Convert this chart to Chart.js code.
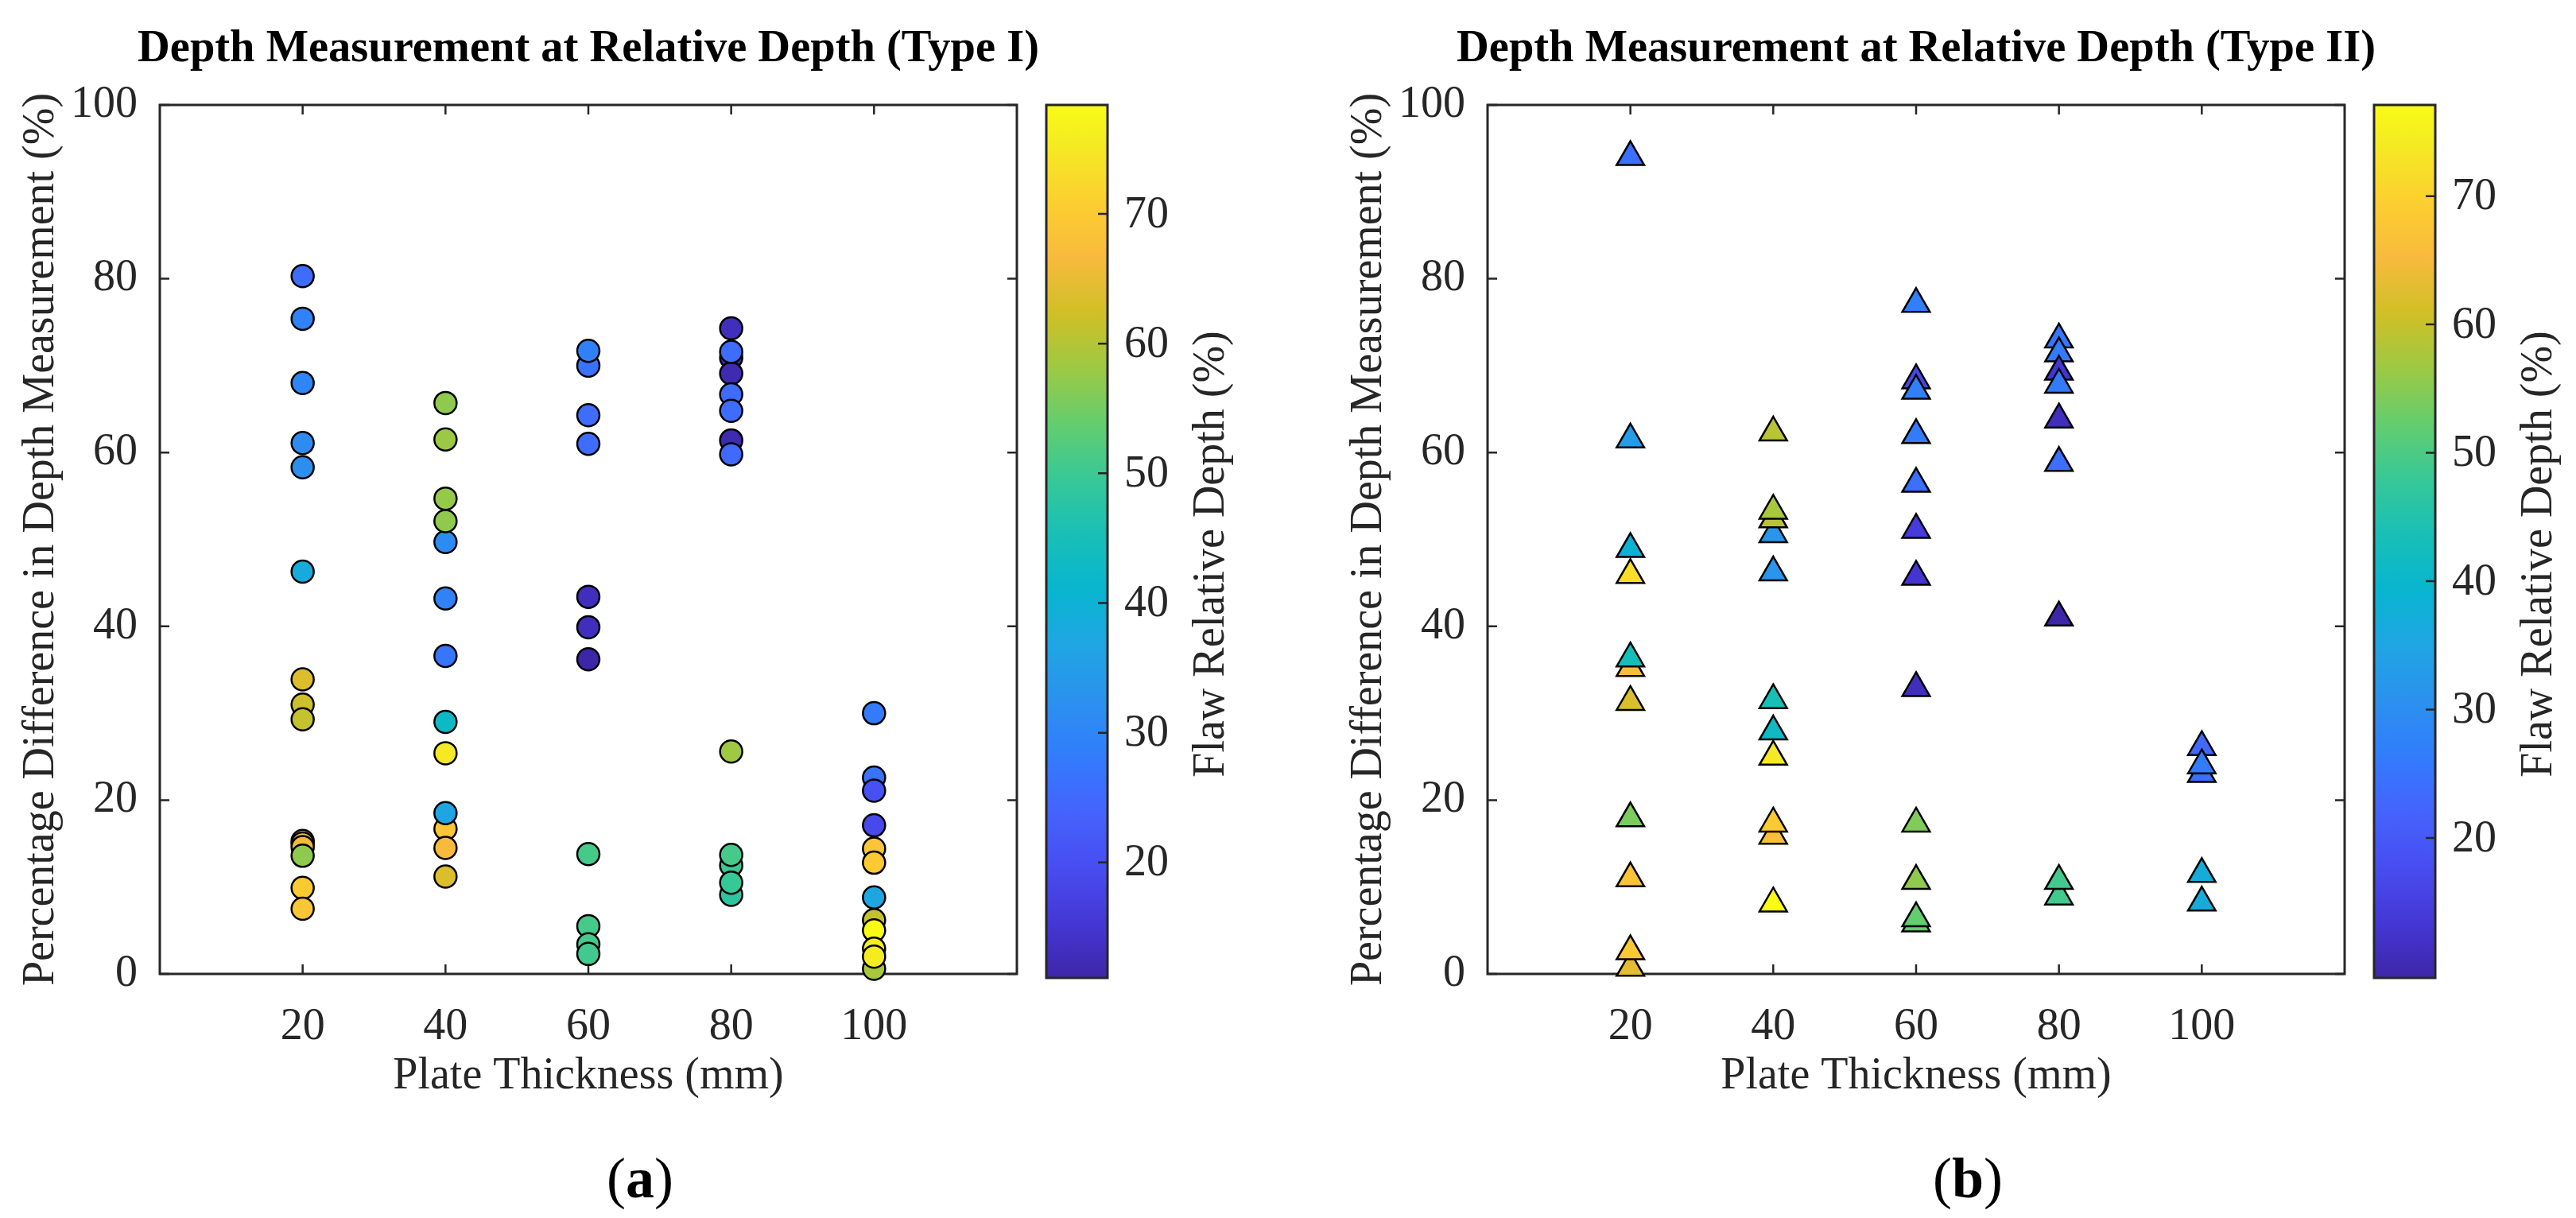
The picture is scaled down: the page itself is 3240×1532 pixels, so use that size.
<!DOCTYPE html>
<html>
<head>
<meta charset="utf-8">
<title>Depth Measurement at Relative Depth</title>
<script src="https://cdn.jsdelivr.net/npm/chart.js@4.4.0/dist/chart.umd.min.js"></script>
<style>
  html, body { margin: 0; padding: 0; background: #fff; }
  body { width: 3240px; height: 1532px; position: relative; overflow: hidden; }
  .panel { position: absolute; top: 0; width: 1570px; height: 1532px; }
  .panel canvas { position: absolute; left: 0; top: 0; width: 1570px; height: 1532px; }
  .sub {
    position: absolute; top: 1439px; left: 805px; width: 200px; margin-left: -100px;
    text-align: center; font-family: 'Liberation Serif', 'Times New Roman', serif;
    font-size: 72px; line-height: 86px; color: #000;
  }
</style>
</head>
<body>
<div class="panel" style="left:0px">
  <canvas id="chartA" width="1570" height="1532"></canvas>
  <div class="sub">(<b>a</b>)</div>
</div>
<div class="panel" style="left:1670px">
  <canvas id="chartB" width="1570" height="1532"></canvas>
  <div class="sub">(<b>b</b>)</div>
</div>
<script>
// axis ticks
const xTicks = [20, 40, 60, 80, 100];
const yTicks = [0, 20, 40, 60, 80, 100];
const colorTicks = [20, 30, 40, 50, 60, 70];

// Type I flaws (circles)
const thickness1 = [20, 20, 20, 20, 20, 20, 20, 20, 20, 20, 20, 20, 20, 20, 20,
                    40, 40, 40, 40, 40, 40, 40, 40, 40, 40, 40, 40, 40,
                    60, 60, 60, 60, 60, 60, 60, 60, 60, 60, 60,
                    80, 80, 80, 80, 80, 80, 80, 80, 80, 80, 80, 80, 80,
                    100, 100, 100, 100, 100, 100, 100, 100, 100, 100, 100, 100];
const diff1 = [80.3, 75.4, 68.0, 61.1, 58.3, 46.3, 33.9, 31.0, 29.3, 15.3, 15.0, 14.6, 13.6, 9.9, 7.5,
               65.7, 61.5, 49.7, 54.7, 52.1, 43.2, 36.6, 29.0, 25.4, 16.7, 18.5, 14.5, 11.2,
               70.0, 71.7, 64.3, 61.0, 43.4, 39.9, 36.2, 13.8, 5.5, 3.4, 2.3,
               74.3, 70.9, 69.1, 61.4, 71.6, 66.7, 64.8, 59.8, 25.6, 12.5, 13.7, 9.1, 10.5,
               30.0, 22.6, 21.1, 17.1, 14.4, 12.8, 8.8, 6.2, 5.0, 0.6, 2.9, 2.0];
const flaw1 = [25.5, 29.5, 30.0, 31.5, 32.0, 38.5, 63.6, 62.0, 61.3, 66.6, 68.0, 66.0, 57.0, 69.9, 69.0,
               57.0, 58.0, 31.5, 57.5, 57.0, 29.5, 27.0, 42.7, 75.0, 68.8, 36.7, 66.6, 63.6,
               26.6, 29.3, 25.5, 25.5, 13.0, 13.0, 11.1, 51.0, 51.0, 51.0, 50.5,
               13.0, 12.5, 12.0, 12.0, 25.5, 25.5, 25.5, 25.0, 58.2, 50.0, 51.0, 48.1, 49.5,
               28.0, 26.6, 20.5, 19.0, 68.8, 69.9, 37.0, 61.3, 78.4, 59.0, 76.0, 75.5];
const flawRange1 = [11.1, 78.4];

// Type II flaws (triangles)
const thickness2 = [20, 20, 20, 20, 20, 20, 20, 20, 20, 20, 20,
                    40, 40, 40, 40, 40, 40, 40, 40, 40, 40, 40,
                    60, 60, 60, 60, 60, 60, 60, 60, 60, 60, 60, 60,
                    80, 80, 80, 80, 80, 80, 80, 80, 80,
                    100, 100, 100, 100, 100];
const diff2 = [94.0, 61.5, 48.9, 45.9, 35.2, 36.3, 31.3, 17.9, 11.0, 0.7, 2.6,
               62.3, 50.6, 52.3, 53.3, 46.2, 31.5, 27.9, 25.0, 15.9, 17.3, 8.1,
               77.1, 68.3, 67.1, 62.0, 56.4, 51.1, 45.7, 32.9, 17.3, 10.7, 5.8, 6.4,
               73.0, 71.4, 69.3, 67.8, 63.8, 58.8, 41.0, 8.9, 10.7,
               23.0, 26.1, 24.0, 11.5, 8.2];
const flaw2 = [24.2, 33.0, 38.5, 72.0, 66.3, 43.0, 62.0, 54.0, 67.0, 63.0, 68.0,
               58.8, 32.0, 58.8, 57.4, 31.5, 43.6, 41.5, 73.7, 66.3, 68.5, 77.1,
               27.5, 16.6, 27.5, 26.4, 24.2, 14.5, 13.0, 11.0, 54.4, 55.5, 52.3, 52.3,
               25.3, 26.4, 13.0, 26.4, 11.0, 24.2, 9.1, 49.0, 49.0,
               24.2, 23.0, 26.4, 37.0, 37.0];
const flawRange2 = [9.1, 77.1];

// parula colour map, sampled
const parula = [
  [0 / 63, 0.2422, 0.1504, 0.6603], [4 / 63, 0.2706, 0.2147, 0.8364],
  [8 / 63, 0.2813, 0.3006, 0.9414], [12 / 63, 0.2699, 0.3892, 0.9906],
  [16 / 63, 0.1963, 0.4847, 0.9892], [20 / 63, 0.1687, 0.5703, 0.9359],
  [24 / 63, 0.1248, 0.6459, 0.8883], [28 / 63, 0.0297, 0.7082, 0.8163],
  [32 / 63, 0.0964, 0.7500, 0.7120], [36 / 63, 0.2161, 0.7843, 0.5923],
  [40 / 63, 0.3909, 0.8029, 0.4354], [44 / 63, 0.6174, 0.7876, 0.2612],
  [48 / 63, 0.8203, 0.7498, 0.1535], [52 / 63, 0.9728, 0.7298, 0.2394],
  [56 / 63, 0.9892, 0.8136, 0.1885], [60 / 63, 0.9597, 0.9135, 0.1423],
  [63 / 63, 0.9769, 0.9839, 0.0805]
];

function parulaColor(t) {
  t = Math.max(0, Math.min(1, t));
  for (let i = 1; i < parula.length; i++) {
    if (t <= parula[i][0]) {
      const a = parula[i - 1], b = parula[i];
      const f = (t - a[0]) / (b[0] - a[0]);
      const c = [1, 2, 3].map(k => Math.round(255 * (a[k] + (b[k] - a[k]) * f)));
      return `rgb(${c[0]},${c[1]},${c[2]})`;
    }
  }
  return 'rgb(249,251,21)';
}

const FONT = "'Liberation Serif', 'Times New Roman', serif";
const INK = '#262626';

// box with inward ticks on all four sides, like MATLAB axes
const boxAxes = {
  id: 'boxAxes',
  beforeDatasetsDraw(chart) {
    const {ctx, chartArea: a, scales: {x, y}} = chart;
    ctx.save();
    ctx.strokeStyle = INK;
    ctx.lineWidth = 2.5;
    ctx.beginPath();
    xTicks.forEach(v => {
      const px = x.getPixelForValue(v);
      ctx.moveTo(px, a.bottom); ctx.lineTo(px, a.bottom - 12);
      ctx.moveTo(px, a.top); ctx.lineTo(px, a.top + 12);
    });
    yTicks.forEach(v => {
      const py = y.getPixelForValue(v);
      ctx.moveTo(a.left, py); ctx.lineTo(a.left + 12, py);
      ctx.moveTo(a.right, py); ctx.lineTo(a.right - 12, py);
    });
    ctx.stroke();
    ctx.lineWidth = 3;
    ctx.strokeRect(a.left, a.top, a.right - a.left, a.bottom - a.top);
    ctx.restore();
  }
};

// title centred over the axes, wider than the plot box
const panelTitle = {
  id: 'panelTitle',
  afterDraw(chart, args, opts) {
    const {ctx, chartArea: a} = chart;
    ctx.save();
    ctx.fillStyle = '#000';
    ctx.font = `bold 56.5px ${FONT}`;
    ctx.textAlign = 'center';
    ctx.textBaseline = 'middle';
    ctx.fillText(opts.text, (a.left + a.right) / 2, 62);
    ctx.restore();
  }
};

const colorbar = {
  id: 'colorbar',
  afterDraw(chart, args, opts) {
    const {ctx} = chart;
    const [lo, hi] = opts.range;
    const left = 1316, width = 77, top = 132, bottom = 1230;
    const toPx = v => bottom - (v - lo) / (hi - lo) * (bottom - top);
    ctx.save();
    const grad = ctx.createLinearGradient(0, bottom, 0, top);
    parula.forEach(p => grad.addColorStop(p[0], parulaColor(p[0])));
    ctx.fillStyle = grad;
    ctx.fillRect(left, top, width, bottom - top);
    ctx.strokeStyle = INK;
    ctx.lineWidth = 3;
    ctx.strokeRect(left, top, width, bottom - top);
    ctx.lineWidth = 2.5;
    ctx.beginPath();
    colorTicks.forEach(v => {
      const py = toPx(v);
      ctx.moveTo(left + width, py); ctx.lineTo(left + width - 12, py);
    });
    ctx.stroke();
    ctx.fillStyle = INK;
    ctx.font = `56px ${FONT}`;
    ctx.textAlign = 'left';
    ctx.textBaseline = 'middle';
    colorTicks.forEach(v => ctx.fillText(String(v), 1414, toPx(v) + 2));
    ctx.translate(1524, 697);
    ctx.rotate(-Math.PI / 2);
    ctx.textAlign = 'center';
    ctx.fillText('Flaw Relative Depth (%)', 0, 0);
    ctx.restore();
  }
};

function makePanel(id, title, xs, ys, cs, range, style, radius) {
  const colors = cs.map(v => parulaColor((v - range[0]) / (range[1] - range[0])));
  return new Chart(document.getElementById(id), {
    type: 'scatter',
    data: {
      datasets: [{
        data: xs.map((t, i) => ({x: t, y: ys[i]})),
        pointStyle: style,
        pointRadius: radius,
        pointBackgroundColor: colors,
        pointBorderColor: '#000',
        pointBorderWidth: 2.5,
        clip: false
      }]
    },
    options: {
      responsive: false,
      devicePixelRatio: 1,
      animation: false,
      events: [],
      layout: {padding: {left: 18.4, right: 291, top: 132, bottom: 144}},
      scales: {
        x: {
          type: 'linear', min: 0, max: 120,
          grid: {display: false},
          border: {display: false},
          afterBuildTicks: s => { s.ticks = xTicks.map(v => ({value: v})); },
          ticks: {font: {family: FONT, size: 56}, color: INK, padding: 26, maxRotation: 0, autoSkip: false},
          title: {display: true, text: 'Plate Thickness (mm)', font: {family: FONT, size: 56}, color: INK, padding: 0},
          afterFit: s => { s.height = 163; }
        },
        y: {
          type: 'linear', min: 0, max: 100,
          grid: {display: false},
          border: {display: false},
          afterBuildTicks: s => { s.ticks = yTicks.map(v => ({value: v})); },
          ticks: {font: {family: FONT, size: 56}, color: INK, padding: 20, autoSkip: false},
          title: {display: true, text: 'Percentage Difference in Depth Measurement (%)', font: {family: FONT, size: 56}, color: INK, padding: 0},
          afterFit: s => { s.width = 182.6; }
        }
      },
      plugins: {
        legend: {display: false},
        tooltip: {enabled: false},
        title: {display: false},
        panelTitle: {text: title},
        colorbar: {range: range}
      }
    },
    plugins: [boxAxes, panelTitle, colorbar]
  });
}

makePanel('chartA', 'Depth Measurement at Relative Depth (Type I)', thickness1, diff1, flaw1, flawRange1, 'circle', 14);
makePanel('chartB', 'Depth Measurement at Relative Depth (Type II)', thickness2, diff2, flaw2, flawRange2, 'triangle', 20);
</script>
</body>
</html>
